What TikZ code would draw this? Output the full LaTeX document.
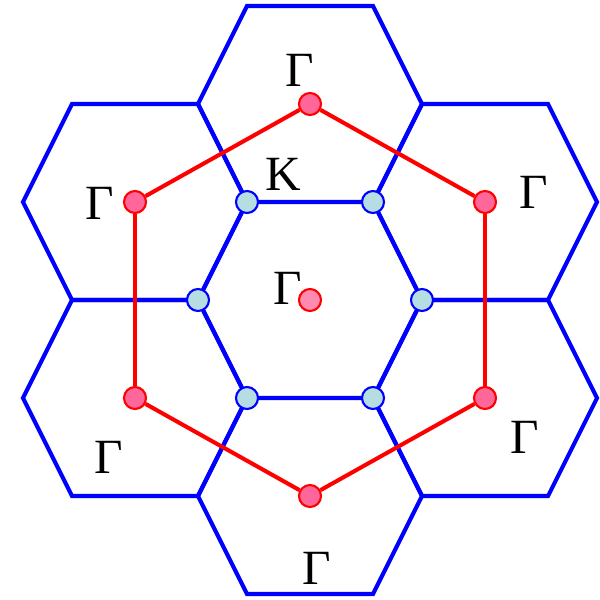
\documentclass[tikz,border=0pt]{standalone}
\usepackage{fontspec}
\setmainfont{Liberation Serif}
\usepackage{xcolor}
\usepackage{tikz}
\usetikzlibrary{
    positioning,
    backgrounds
}
\definecolor{gdot}{RGB}{255,102,153}
\definecolor{gmid}{RGB}{255,140,176}
\definecolor{kdot}{RGB}{182,222,226}
\tikzset{
    zone/.style={
        draw=blue,
        line width=1.15pt,
        line join=miter
    },
    gpoint/.style={
        circle,
        draw=red,
        fill=gdot,
        line width=0.6pt,
        inner sep=0pt,
        minimum size=2.2mm
    },
    kpoint/.style={
        circle,
        draw=blue,
        fill=kdot,
        line width=0.6pt,
        inner sep=0pt,
        minimum size=2.2mm
    },
    gline/.style={
        draw=red,
        line width=1.15pt
    },
    kline/.style={
        draw=blue,
        line width=1.15pt
    },
    lbl/.style={
        inner sep=0pt,
        font=\fontsize{14}{16}\selectfont
    }
}

\begin{document}
\begin{tikzpicture}[x=0.01cm, y=-0.01cm]

\useasboundingbox (0,0) rectangle (600,600);

% zone centres
\node[gpoint, fill=gmid] (g0) at (310,300) {};
\node[gpoint] (gt) at (310,104) {};
\node[gpoint] (gtl) at (135,202) {};
\node[gpoint] (gtr) at (485,202) {};
\node[gpoint] (gbl) at (135,398) {};
\node[gpoint] (gbr) at (485,398) {};
\node[gpoint] (gb) at (310,496) {};

% corners of the first zone
\node[kpoint] (k1) at (247,202) {};
\node[kpoint] (k2) at (373,202) {};
\node[kpoint] (k3) at (422,300) {};
\node[kpoint] (k4) at (373,398) {};
\node[kpoint] (k5) at (247,398) {};
\node[kpoint] (k6) at (198,300) {};

% neighbouring zones
\begin{scope}[on background layer]
\draw[zone, shift={(gt)}] (-63,-98) -- (63,-98) -- (112,0) -- (63,98) -- (-63,98) -- (-112,0) -- cycle;
\draw[zone, shift={(gtl)}] (-63,-98) -- (63,-98) -- (112,0) -- (63,98) -- (-63,98) -- (-112,0) -- cycle;
\draw[zone, shift={(gtr)}] (-63,-98) -- (63,-98) -- (112,0) -- (63,98) -- (-63,98) -- (-112,0) -- cycle;
\draw[zone, shift={(gbl)}] (-63,-98) -- (63,-98) -- (112,0) -- (63,98) -- (-63,98) -- (-112,0) -- cycle;
\draw[zone, shift={(gbr)}] (-63,-98) -- (63,-98) -- (112,0) -- (63,98) -- (-63,98) -- (-112,0) -- cycle;
\draw[zone, shift={(gb)}] (-63,-98) -- (63,-98) -- (112,0) -- (63,98) -- (-63,98) -- (-112,0) -- cycle;
\end{scope}

\draw[kline] (k1) -- (k2);
\draw[kline] (k2) -- (k3);
\draw[kline] (k3) -- (k4);
\draw[kline] (k4) -- (k5);
\draw[kline] (k5) -- (k6);
\draw[kline] (k6) -- (k1);

\draw[gline] (gt) -- (gtr);
\draw[gline] (gtr) -- (gbr);
\draw[gline] (gbr) -- (gb);
\draw[gline] (gb) -- (gbl);
\draw[gline] (gbl) -- (gtl);
\draw[gline] (gtl) -- (gt);

\node[lbl] (lt) at (300,70) {Γ};
\node[lbl] (ltl) at (100,203) {Γ};
\node[lbl] (ltr) at (534,192) {Γ};
\node[lbl] (lbl) at (109,457) {Γ};
\node[lbl] (lbr) at (525,437) {Γ};
\node[lbl] (lb) at (317,568) {Γ};
\node[lbl] (l0) at (288,288) {Γ};
\node[lbl] (lk) at (283,174) {K};

\end{tikzpicture}
\end{document}
